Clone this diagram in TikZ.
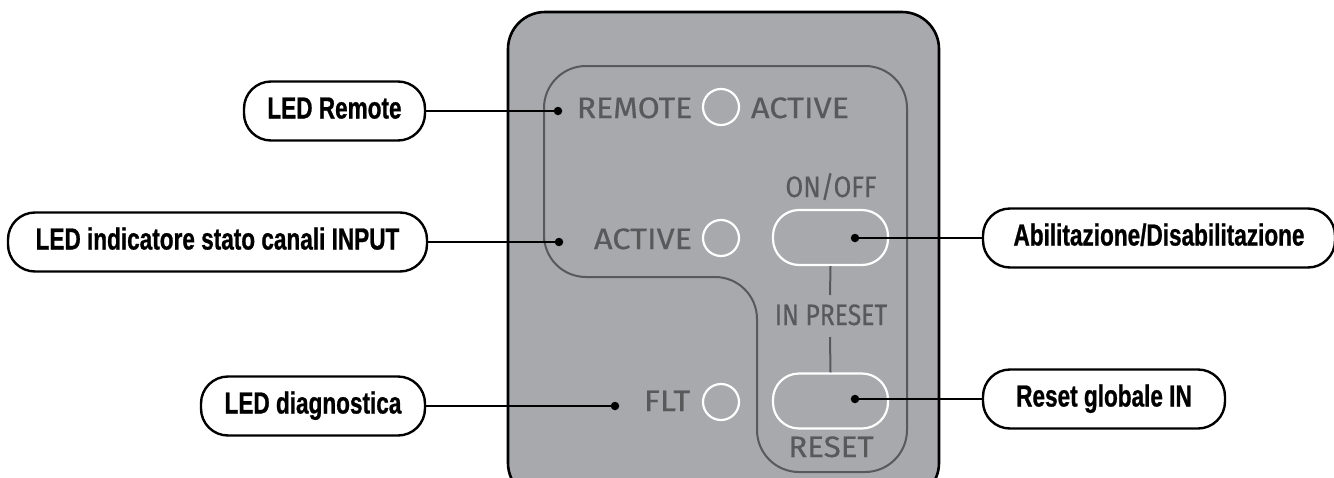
\documentclass[tikz,border=0pt]{standalone}
\usepackage{fontspec}
\newfontfamily\condfont[FakeStretch=0.74,FakeBold=0.8]{Liberation Sans}
\newfontfamily\panelfont[FakeStretch=1.06,FakeBold=0.5]{Fira Sans}
\newcommand\xsq[2]{\scalebox{#1}[1]{#2}}
\definecolor{panelgray}{HTML}{A7A9AC}
\definecolor{darkgray}{HTML}{58595B}
\tikzset{
  callout/.style={draw=black, line width=2.4pt, fill=white, rounded corners=27pt,
    minimum height=59pt, inner sep=0pt, text height=21pt, text depth=6pt,
    font=\condfont\bfseries\fontsize{30.5}{33}\selectfont, align=center},
  conn/.style={draw=black, line width=2.2pt},
  dot/.style={circle, fill=black, draw=none, minimum size=8.5pt, inner sep=0pt},
  led/.style={circle, draw=white, line width=2.2pt, minimum size=36pt, inner sep=0pt},
  button/.style={draw=white, line width=2.2pt, rounded corners=26pt, minimum width=115pt, minimum height=55pt, inner sep=0pt},
  ptext/.style={anchor=base, inner sep=0pt, text=darkgray, font=\panelfont\fontsize{29.5}{31}\selectfont},
  outline/.style={draw=darkgray, line width=2pt},
}
\begin{document}
\begin{tikzpicture}[x=1pt,y=-1pt]
\useasboundingbox (0,0) rectangle (1334,477);
\begin{scope}
\clip (0,0) rectangle (1334,477);
% outer panel
\draw[fill=panelgray, draw=black, line width=2.6pt, rounded corners=37pt] (508,12) rectangle (939,500);
% inner outline
\draw[outline, rounded corners=42pt] (544,200) -- (544,66) -- (907,66) -- (907,472) -- (757,472) -- (757,277) -- (544,277) -- cycle;
\end{scope}
% LEDs
\node[led] (ledr) at (721,107) {};
\node[led] (leda) at (721,238) {};
\node[led] (ledf) at (721,402) {};
% buttons
\node[button] (bon) at (830.5,237.5) {};
\node[button] (brs) at (830.5,401) {};
% panel texts
\node[ptext] (tremote) at (634.5,118) {\xsq{1.02}{REMOTE}};
\node[ptext] (tactr) at (800,118) {\xsq{1.04}{ACTIVE}};
\node[ptext] (tactl) at (643,249) {\xsq{1.04}{ACTIVE}};
\node[ptext] (tflt) at (667,411) {\xsq{1.04}{FLT}};
\node[ptext] (tonoff) at (831,197) {\xsq{0.82}{ON/OFF}};
\node[ptext] (tinp) at (831,325) {\xsq{0.79}{IN PRESET}};
\node[ptext] (treset) at (831,457) {RESET};
% button link lines
\coordinate (l1) at (830,295);
\coordinate (l2) at (830,337);
\draw[outline] (bon.south) -- (l1);
\draw[outline] (l2) -- (brs.north);
% dots
\node[dot] (dr) at (558,111) {};
\node[dot] (da) at (559,242) {};
\node[dot] (df) at (615,406) {};
\node[dot] (don) at (855,238) {};
\node[dot] (drs) at (855,399) {};
% callouts
\node[callout, minimum width=181pt] (cr) at (334.5,111) {LED Remote};
\node[callout, minimum width=419pt] (ca) at (217.5,242) {LED indicatore stato canali INPUT};
\node[callout, minimum width=224pt] (cf) at (313,406) {LED diagnostica};
\node[callout, minimum width=352pt] (con) at (1159,238) {Abilitazione/Disabilitazione};
\node[callout, minimum width=242pt] (crs) at (1104,399) {Reset globale IN};
% connectors
\draw[conn] (cr.east) -- (dr.center);
\draw[conn] (ca.east) -- (da.center);
\draw[conn] (cf.east) -- (df.center);
\draw[conn] (con.west) -- (don.center);
\draw[conn] (crs.west) -- (drs.center);
\end{tikzpicture}
\end{document}
